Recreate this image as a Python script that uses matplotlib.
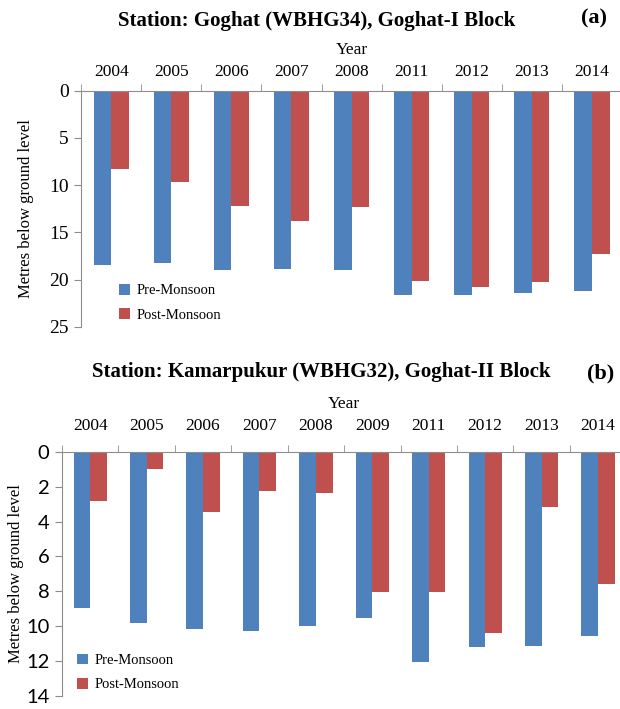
import numpy as np
import matplotlib
matplotlib.use("Agg")
import matplotlib.pyplot as plt

# station (a) Goghat WBHG34
years_a = ["2004", "2005", "2006", "2007", "2008", "2011", "2012", "2013", "2014"]
pre_a = [18.5, 18.2, 19.0, 18.9, 19.0, 21.6, 21.6, 21.4, 21.2]
post_a = [8.3, 9.7, 12.2, 13.8, 12.3, 20.1, 20.8, 20.3, 17.3]

# station (b) Kamarpukur WBHG32
years_b = ["2004", "2005", "2006", "2007", "2008", "2009", "2011", "2012", "2013", "2014"]
pre_b = [8.97, 9.82, 10.16, 10.27, 9.99, 9.53, 12.03, 11.18, 11.12, 10.56]
post_b = [2.84, 1.02, 3.46, 2.27, 2.38, 8.06, 8.06, 10.39, 3.18, 7.6]

BLUE = "#4F81BD"
RED = "#C0504D"
GREY = "#8C8C8C"
SERIF = "Liberation Serif"


def draw(ax, years, pre, post, ymax, ystep, tickfont, ticksize, xpad, leg_anchor):
    x = np.arange(len(years))
    w = 0.295
    ax.bar(x - w / 2, pre, w, color=BLUE, label="Pre-Monsoon")
    ax.bar(x + w / 2, post, w, color=RED, label="Post-Monsoon")
    ax.set_xlim(-0.5, len(years) - 0.5)
    ax.set_ylim(ymax, 0)
    ax.set_yticks(np.arange(0, ymax + 0.1, ystep))
    for lab in ax.get_yticklabels():
        lab.set_fontfamily(tickfont)
        lab.set_fontsize(ticksize)
    ax.xaxis.tick_top()
    ax.xaxis.set_label_position("top")
    ax.set_xticks(x)
    ax.set_xticklabels(years, fontfamily=SERIF, fontsize=12.5)
    ax.set_xticks(np.arange(-0.5, len(years)), minor=True)
    ax.tick_params(axis="x", which="major", length=0, pad=xpad)
    ax.tick_params(axis="x", which="minor", length=5, color=GREY, direction="out")
    ax.tick_params(axis="y", length=5, color=GREY, direction="out", pad=4)
    ax.set_xlabel("Year", fontfamily=SERIF, fontsize=12.5, labelpad=7)
    ax.set_ylabel("Metres below ground level", fontfamily=SERIF, fontsize=12)
    for s in ["right", "bottom"]:
        ax.spines[s].set_visible(False)
    for s in ["left", "top"]:
        ax.spines[s].set_color(GREY)
    ax.legend(loc="lower left", bbox_to_anchor=leg_anchor, frameon=False,
              prop={"family": SERIF, "size": 10.5}, handlelength=0.75,
              handleheight=0.75, handletextpad=0.45, labelspacing=0.75,
              borderpad=0, borderaxespad=0)


fig = plt.figure(figsize=(6.2, 7.09), dpi=100)

ax1 = fig.add_axes([0.131, 0.539, 0.872, 0.333])
draw(ax1, years_a, pre_a, post_a, 25, 5, SERIF, 14, 8, (0.07, 0.022))
ax1.yaxis.set_label_coords(-0.088, 0.5)

ax2 = fig.add_axes([0.1, 0.018, 0.91, 0.345])
draw(ax2, years_b, pre_b, post_b, 14, 2, "Lato", 14.5, 13, (0.027, 0.02))
ax2.yaxis.set_label_coords(-0.068, 0.5)

fig.text(0.51, 0.970, "Station: Goghat (WBHG34), Goghat-I Block", ha="center", va="center",
         fontfamily=SERIF, fontweight="bold", fontsize=15)
fig.text(0.958, 0.974, "(a)", ha="center", va="center",
         fontfamily=SERIF, fontweight="bold", fontsize=16)
fig.text(0.518, 0.475, "Station: Kamarpukur (WBHG32), Goghat-II Block", ha="center", va="center",
         fontfamily=SERIF, fontweight="bold", fontsize=15)
fig.text(0.968, 0.473, "(b)", ha="center", va="center",
         fontfamily=SERIF, fontweight="bold", fontsize=16)

fig.savefig("out.png", dpi=100)
